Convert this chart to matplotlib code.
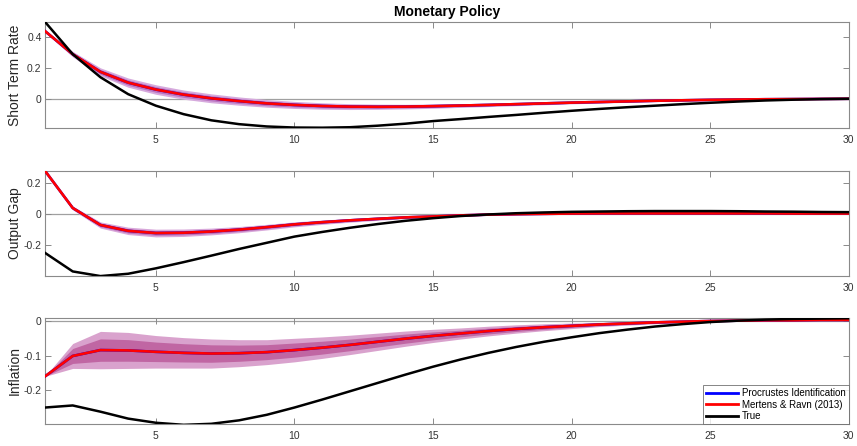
import numpy as np
import matplotlib.pyplot as plt

plt.rcParams['font.family'] = ['Liberation Sans', 'DejaVu Sans']

# horizon
t = np.arange(1, 31)

# short term rate
rate_true = [0.50, 0.29, 0.14, 0.03, -0.045, -0.10, -0.14, -0.165, -0.18, -0.187,
             -0.188, -0.185, -0.175, -0.162, -0.145, -0.132, -0.118, -0.105, -0.091, -0.078,
             -0.066, -0.055, -0.045, -0.035, -0.026, -0.018, -0.011, -0.006, -0.002, 0.0]
rate_mr = [0.44, 0.29, 0.175, 0.105, 0.06, 0.027, 0.003, -0.015, -0.03, -0.04,
           -0.047, -0.051, -0.052, -0.051, -0.048, -0.044, -0.04, -0.035, -0.03, -0.025,
           -0.021, -0.017, -0.013, -0.01, -0.007, -0.005, -0.003, -0.002, -0.001, 0.0]
rate_hw = [0.008, 0.018, 0.026, 0.03, 0.031, 0.03, 0.029, 0.027, 0.025, 0.023,
           0.021, 0.019, 0.017, 0.015, 0.014, 0.012, 0.011, 0.01, 0.009, 0.008,
           0.007, 0.006, 0.005, 0.004, 0.003, 0.002, 0.002, 0.001, 0.001, 0.0]

# output gap
gap_true = [-0.25, -0.37, -0.40, -0.385, -0.35, -0.31, -0.268, -0.225, -0.185, -0.145,
            -0.115, -0.088, -0.064, -0.043, -0.026, -0.012, -0.002, 0.006, 0.011, 0.015,
            0.017, 0.019, 0.02, 0.02, 0.02, 0.019, 0.017, 0.016, 0.014, 0.013]
gap_mr = [0.28, 0.04, -0.07, -0.108, -0.122, -0.12, -0.112, -0.1, -0.084, -0.066,
          -0.052, -0.04, -0.03, -0.021, -0.015, -0.008, -0.003, 0.0, 0.002, 0.004,
          0.005, 0.005, 0.005, 0.005, 0.005, 0.005, 0.005, 0.004, 0.004, 0.004]
gap_hw = [0.0, 0.012, 0.02, 0.024, 0.025, 0.024, 0.022, 0.02, 0.018, 0.016,
          0.014, 0.012, 0.01, 0.008, 0.007, 0.006, 0.005, 0.004, 0.003, 0.003,
          0.002, 0.002, 0.002, 0.001, 0.001, 0.001, 0.001, 0.001, 0.001, 0.001]

# inflation
infl_true = [-0.25, -0.244, -0.262, -0.282, -0.294, -0.30, -0.297, -0.287, -0.271, -0.25,
             -0.227, -0.203, -0.179, -0.155, -0.132, -0.111, -0.092, -0.075, -0.06, -0.047,
             -0.035, -0.025, -0.016, -0.009, -0.003, 0.001, 0.004, 0.006, 0.007, 0.008]
infl_mr = [-0.16, -0.101, -0.084, -0.085, -0.089, -0.092, -0.094, -0.093, -0.09, -0.084,
           -0.077, -0.069, -0.06, -0.051, -0.043, -0.036, -0.029, -0.023, -0.018, -0.014,
           -0.010, -0.007, -0.004, -0.002, 0.0, 0.001, 0.002, 0.002, 0.003, 0.003]
infl_hw = [0.0, 0.036, 0.054, 0.052, 0.047, 0.044, 0.042, 0.039, 0.036, 0.034,
           0.031, 0.028, 0.025, 0.022, 0.019, 0.016, 0.014, 0.012, 0.01, 0.008,
           0.006, 0.005, 0.004, 0.003, 0.002, 0.002, 0.001, 0.001, 0.001, 0.001]

panels = [
    ("Short Term Rate", rate_true, rate_mr, rate_hw, (-0.19, 0.50), [0, 0.2, 0.4], ["0", "0.2", "0.4"]),
    ("Output Gap", gap_true, gap_mr, gap_hw, (-0.40, 0.28), [-0.2, 0, 0.2], ["-0.2", "0", "0.2"]),
    ("Inflation", infl_true, infl_mr, infl_hw, (-0.298, 0.01), [-0.2, -0.1, 0], ["-0.2", "-0.1", "0"]),
]

boxes = [[0.0525, 0.713, 0.938, 0.238],
         [0.0525, 0.381, 0.938, 0.236],
         [0.0525, 0.049, 0.938, 0.239]]

# band colours (outer, inner) per panel
band_cols = [('#d6aadd', '#bb76c2'),
             ('#d8a8da', '#be74bb'),
             ('#d9a2cd', '#c066a3')]

fig = plt.figure(figsize=(8.57, 4.46), dpi=100)
axs = []
for (name, tru, mr, hw, ylim, yt, ytl), box, (c_out, c_in) in zip(panels, boxes, band_cols):
    ax = fig.add_axes(box)
    mr = np.array(mr)
    hw = np.array(hw)
    ax.axhline(0, color='#a0a0a0', lw=0.9, zorder=1)
    ax.fill_between(t, mr - hw, mr + hw, color=c_out, lw=0, zorder=2)
    ax.fill_between(t, mr - 0.6 * hw, mr + 0.6 * hw, color=c_in, lw=0, zorder=3)
    l1, = ax.plot(t, mr, color='#0000ff', lw=1.9, zorder=4)
    l2, = ax.plot(t, mr, color='#ff0000', lw=1.9, zorder=5)
    l3, = ax.plot(t, tru, color='black', lw=1.8, zorder=6)
    ax.set_xlim(1, 30)
    ax.set_ylim(*ylim)
    ax.set_xticks([5, 10, 15, 20, 25, 30])
    ax.set_yticks(yt)
    ax.set_yticklabels(ytl)
    ax.set_ylabel(name, fontsize=10, color='#262626')
    ax.yaxis.set_label_coords(-0.029, 0.5)
    ax.tick_params(direction='in', length=4, width=0.7, colors='#8a8a8a',
                   labelcolor='#333333', labelsize=7.5, top=True, right=True)
    ax.tick_params(axis='x', pad=5)
    ax.tick_params(axis='y', pad=2.5)
    for sp in ax.spines.values():
        sp.set_color('#8a8a8a')
        sp.set_linewidth(0.8)
    axs.append(ax)

axs[0].set_title("Monetary Policy", fontsize=10, fontweight='bold', pad=4)
leg = axs[2].legend([l1, l2, l3], ["Procrustes Identification", "Mertens & Ravn (2013)", "True"],
                    loc='lower right', fontsize=7, frameon=True, fancybox=False,
                    borderaxespad=0, handlelength=3.3, handletextpad=0.4,
                    labelspacing=0.15, borderpad=0.3)
leg.get_frame().set_edgecolor('#666666')
leg.get_frame().set_linewidth(0.7)
for h in leg.get_lines():
    h.set_linewidth(2)

fig.savefig("out.png", dpi=100)
